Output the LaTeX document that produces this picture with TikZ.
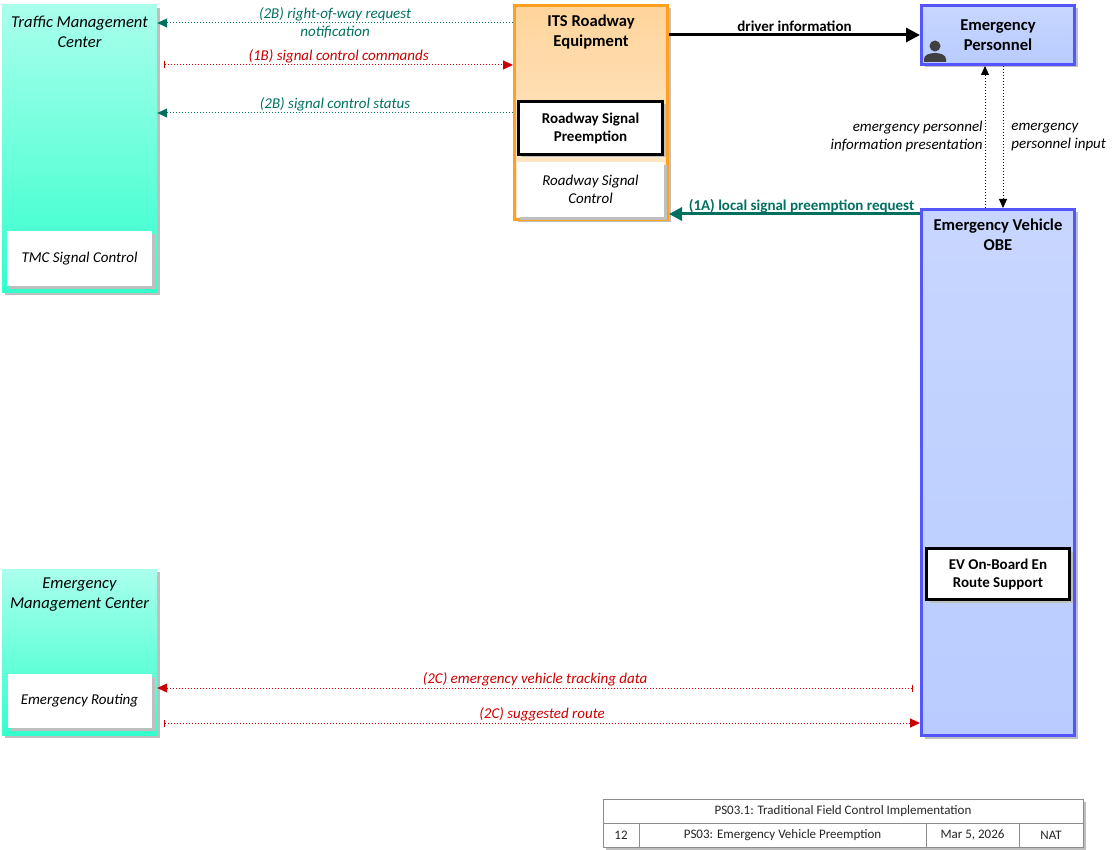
\documentclass[tikz,border=0pt]{standalone}
\usepackage{fontspec}
\setmainfont{Carlito}
\usetikzlibrary{arrows.meta,shadows,positioning}

\definecolor{aquatop}{RGB}{170,255,236}
\definecolor{aquabot}{RGB}{51,255,204}
\definecolor{itstop}{RGB}{255,212,155}
\definecolor{itsbot}{RGB}{255,236,210}
\definecolor{itsline}{RGB}{255,160,32}
\definecolor{evtop}{RGB}{200,214,255}
\definecolor{evbot}{RGB}{184,204,255}
\definecolor{evline}{RGB}{85,85,255}
\definecolor{flowteal}{RGB}{0,112,96}
\definecolor{flowred}{RGB}{204,0,0}

\begin{document}
\begin{tikzpicture}[x=1pt,y=-1pt,
  shadowed/.style={drop shadow={shadow xshift=3pt,shadow yshift=-3pt,fill=black!25,opacity=1}},
  centerbox/.style={shadowed,inner sep=0pt,top color=aquatop,bottom color=aquabot},
  itsbox/.style={shadowed,inner sep=0pt,draw=itsline,line width=3pt,top color=itstop,bottom color=itsbot},
  evbox/.style={shadowed,inner sep=0pt,draw=evline,line width=3pt,top color=evtop,bottom color=evbot},
  funcbox/.style={shadowed,fill=white,inner sep=0pt,align=center,font=\fontsize{15}{18}\selectfont\itshape},
  keybox/.style={funcbox,draw=black,line width=3pt,font=\fontsize{15}{18}\selectfont\bfseries},
  boxtitle/.style={align=center,font=\fontsize{16.6}{20}\selectfont\bfseries},
  centertitle/.style={align=center,font=\fontsize{16.6}{20}\selectfont\itshape},
  flowlabel/.style={align=center,inner sep=1pt,font=\fontsize{15}{18}\selectfont\itshape},
  tealflow/.style={flowteal,line width=1pt,dash pattern=on 1pt off 2pt,-{Triangle[length=10pt,width=9pt]}},
  redflow/.style={flowred,line width=1pt,dash pattern=on 1pt off 2pt,{Bar[width=7pt]}-{Triangle[length=10pt,width=9pt]}},
  userflow/.style={black,line width=0.8pt,dash pattern=on 1pt off 2pt,-{Triangle[length=9pt,width=8pt]}},
  tabcell/.style={shadowed,draw=black!45,fill=white,line width=1pt,inner sep=0pt,text=black!85,font=\fontsize{13}{15}\selectfont}]
\useasboundingbox (0,0) rectangle (1115,850);

% centers
\node[centerbox,minimum width=155pt,minimum height=287pt] (tmc) at (79.5,148.5) {};
\node[centertitle] (tmctitle) at (79.5,31.5) {Traffic Management\\Center};
\node[funcbox,minimum width=145pt,minimum height=55pt] (tmcsig) at (79.5,258.5) {TMC Signal Control};

\node[centerbox,minimum width=155pt,minimum height=166pt] (emc) at (79.5,652) {};
\node[centertitle] (emctitle) at (79.5,595) {Emergency\\Management Center};
\node[funcbox,minimum width=144pt,minimum height=54pt] (emcroute) at (79.5,701) {Emergency Routing};

% field
\node[itsbox,minimum width=153pt,minimum height=214pt] (its) at (591,112.5) {};
\node[boxtitle] (itstitle) at (591,32) {ITS Roadway\\Equipment};
\node[keybox,minimum width=144pt,minimum height=53pt] (rsp) at (590.5,128) {Roadway Signal\\Preemption};
\node[funcbox,minimum width=147pt,minimum height=55pt] (rsc) at (590.5,189.5) {Roadway Signal\\Control};

% vehicle and user
\node[evbox,minimum width=153pt,minimum height=59pt] (ep) at (998,35) {};
\node[boxtitle] (eptitle) at (998,35) {Emergency\\Personnel};
\fill[black!75] (935,46) circle (5.5);
\fill[black!75] (924,62) -- (924,59) .. controls (924,51) and (946,51) .. (946,59) -- (946,62) -- cycle;

\node[evbox,minimum width=153pt,minimum height=526pt] (evobe) at (998,472.5) {};
\node[boxtitle] (evobetitle) at (998,235) {Emergency Vehicle\\OBE};
\node[keybox,minimum width=143pt,minimum height=51pt] (evers) at (998,574) {EV On-Board En\\Route Support};

% flows
\draw[tealflow] (its.west |- 0,23) -- node[flowlabel,text=flowteal] {(2B) right-of-way request\\notification} (tmc.east |- 0,23);
\draw[redflow] ([xshift=7pt]tmc.east |- 0,65) -- node[flowlabel,above,text=flowred] {(1B) signal control commands} (its.west |- 0,65);
\draw[tealflow] (its.west |- 0,113) -- node[flowlabel,above,text=flowteal] {(2B) signal control status} (tmc.east |- 0,113);
\draw[black,line width=3pt,-{Triangle[length=14pt,width=14pt]}] (its.east |- 0,35) -- node[above,inner sep=2pt,font=\fontsize{15}{18}\selectfont\bfseries] {driver information} (ep.west |- 0,35);
\draw[userflow] (evobe.north -| 985,0) -- node[flowlabel,left,inner sep=2pt,align=right] {emergency personnel\\information presentation} (ep.south -| 985,0);
\draw[userflow] (ep.south -| 1003,0) -- node[flowlabel,right,inner sep=8pt,align=left] {emergency\\personnel input} (evobe.north -| 1003,0);
\draw[flowteal,line width=3pt,-{Triangle[length=13pt,width=13pt]}] (evobe.west |- 0,214) -- node[anchor=base,xshift=7pt,yshift=3pt,inner sep=0pt,text=flowteal,font=\fontsize{15}{18}\selectfont\bfseries] {(1A) local signal preemption request} (its.east |- 0,214);
\draw[redflow] ([xshift=-7pt]evobe.west |- 0,688) -- node[flowlabel,above,text=flowred] {(2C) emergency vehicle tracking data} (emc.east |- 0,688);
\draw[redflow] ([xshift=7pt]emc.east |- 0,723) -- node[flowlabel,above,text=flowred] {(2C) suggested route} (evobe.west |- 0,723);

% title block
\node[tabcell,minimum width=480pt,minimum height=24pt] (tabtitle) at (843,811) {PS03.1: Traditional Field Control Implementation};
\node[tabcell,minimum width=36pt,minimum height=24pt] (tabnum) at (621,835) {12};
\node[tabcell,minimum width=287pt,minimum height=24pt] (tabname) at (782.5,835) {PS03: Emergency Vehicle Preemption};
\node[tabcell,minimum width=93pt,minimum height=24pt] (tabdate) at (972.5,835) {Mar 5, 2026};
\node[tabcell,minimum width=64pt,minimum height=24pt] (tabauth) at (1051,835) {NAT};
\end{tikzpicture}
\end{document}
